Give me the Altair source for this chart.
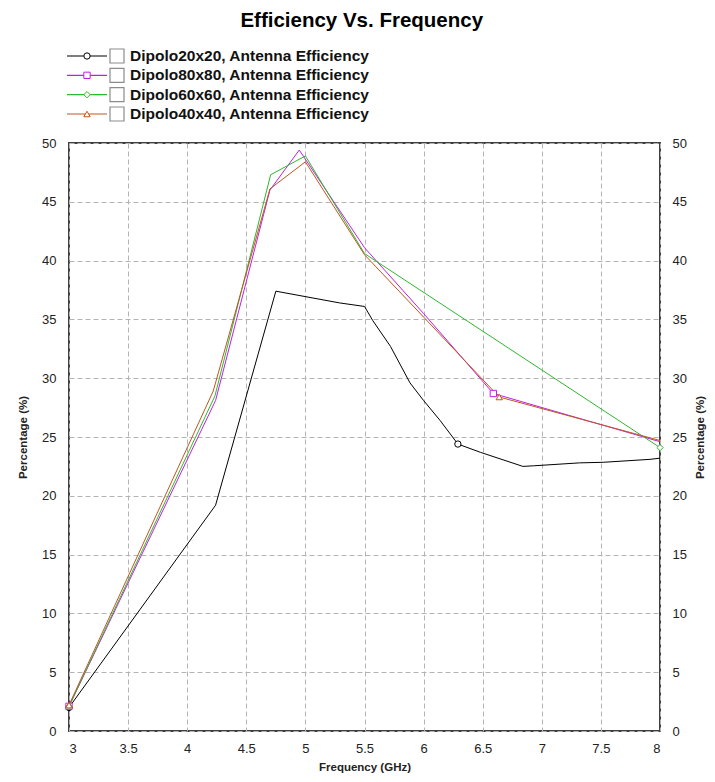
import altair as alt
import pandas as pd

# ---------------- data ----------------
names = [
    "Dipolo20x20, Antenna Efficiency",
    "Dipolo80x80, Antenna Efficiency",
    "Dipolo60x60, Antenna Efficiency",
    "Dipolo40x40, Antenna Efficiency",
]
colors = ["#000000", "#c01ee6", "#2eb82e", "#c0561e"]
shapes = ["circle", "square", "diamond", "triangle-up"]

f_20 = [3.0, 4.24, 4.75, 5.29, 5.50, 5.57, 5.72, 5.885, 6.0, 6.14, 6.29, 6.48, 6.84, 6.93, 7.32, 7.52, 7.915, 8.0]
v_20 = [2.0, 19.2, 37.4, 36.4, 36.1, 34.9, 32.7, 29.6, 28.1, 26.4, 24.4, 23.7, 22.5, 22.55, 22.8, 22.85, 23.1, 23.2]
m_20 = [0, 10]

f_80 = [3.0, 4.24, 4.70, 4.948, 5.5, 6.0, 6.59, 8.0]
v_80 = [2.1, 28.1, 46.0, 49.4, 41.1, 35.5, 28.7, 24.6]
m_80 = [0, 6]

f_60 = [3.0, 4.235, 4.706, 5.0, 5.5, 8.0]
v_60 = [2.1, 28.5, 47.3, 48.9, 40.6, 24.1]
m_60 = [0, 5]

f_40 = [3.0, 4.22, 4.70, 5.0, 5.5, 6.0, 6.64, 8.0]
v_40 = [2.2, 28.9, 46.1, 48.4, 40.5, 35.2, 28.4, 24.7]
m_40 = [0, 6]

x_ticks = [3, 3.5, 4, 4.5, 5, 5.5, 6, 6.5, 7, 7.5, 8]
y_ticks = [0, 5, 10, 15, 20, 25, 30, 35, 40, 45, 50]

# ---------------- tables ----------------
series_f = [f_20, f_80, f_60, f_40]
series_v = [v_20, v_80, v_60, v_40]
series_m = [m_20, m_80, m_60, m_40]

rows, mrows = [], []
for name, fs, vs, ms in zip(names, series_f, series_v, series_m):
    for i, (f, v) in enumerate(zip(fs, vs)):
        rows.append({"series": name, "f": f, "v": v, "idx": i})
    for i in ms:
        mrows.append({"series": name, "f": fs[i], "v": vs[i]})
df = pd.DataFrame(rows)
mdf = pd.DataFrame(mrows)
ldf = pd.DataFrame({"series": names})

SANS = "Liberation Sans"
LABEL = "#222222"

color_scale = alt.Scale(domain=names, range=colors)
shape_scale = alt.Scale(domain=names, range=shapes)

x_axis = alt.Axis(
    values=x_ticks, format=".1~f", title="Frequency (GHz)", grid=True,
    gridDash=[5, 3], gridColor="#b4b4b4", gridWidth=1, ticks=False, domain=False,
    labelFont=SANS, labelFontSize=13, labelColor=LABEL, labelPadding=11,
    titleFont=SANS, titleFontSize=11.5, titleFontWeight="bold", titleColor=LABEL,
    titlePadding=6,
)
x_enc = alt.X("f:Q", scale=alt.Scale(domain=[3, 8], nice=False, zero=False), axis=x_axis)
y_scale = alt.Scale(domain=[0, 50], nice=False)

def y_axis(orient, grid, label_pad, title_pad, title_base):
    return alt.Axis(
        orient=orient, values=y_ticks, title="Percentage (%)", grid=grid,
        gridDash=[5, 3], gridColor="#b4b4b4", gridWidth=1, ticks=False, domain=False,
        labelFont=SANS, labelFontSize=13, labelColor=LABEL, labelPadding=label_pad,
        titleFont=SANS, titleFontSize=11.5, titleFontWeight="bold", titleColor=LABEL,
        titlePadding=title_pad, titleAngle=270, titleBaseline=title_base,
    )

lines = alt.Chart(df).mark_line(strokeWidth=1, clip=True).encode(
    x=x_enc,
    y=alt.Y("v:Q", scale=y_scale, axis=y_axis("left", True, 13, 13, "bottom")),
    color=alt.Color("series:N", scale=color_scale, legend=None),
    order=alt.Order("idx:Q"),
)
right = alt.Chart(df).mark_line(opacity=0).encode(
    x=x_enc,
    y=alt.Y("v:Q", scale=y_scale, axis=y_axis("right", False, 12, 8, "top")),
    detail="series:N",
    order=alt.Order("idx:Q"),
)
pts = alt.Chart(mdf).mark_point(size=40, filled=False, fill="white", strokeWidth=1, opacity=1).encode(
    x=x_enc,
    y=alt.Y("v:Q", scale=y_scale, axis=None),
    stroke=alt.Stroke("series:N", scale=color_scale, legend=None),
    shape=alt.Shape("series:N", scale=shape_scale, legend=None),
)

main = alt.layer(lines, right, pts).resolve_axis(y="independent").properties(
    width=591, height=588,
    view=alt.ViewBackground(stroke="#404040", strokeWidth=2),
)

# ---------------- legend panel ----------------
leg_y = alt.Y("series:N", sort=names, scale=alt.Scale(type="point", padding=0), axis=None)
leg_base = alt.Chart(ldf).encode(y=leg_y)
leg_line = leg_base.mark_rule(strokeWidth=1.2).encode(
    x=alt.value(-2), x2=alt.value(38),
    color=alt.Color("series:N", scale=color_scale, legend=None),
)
leg_mark = leg_base.mark_point(size=40, filled=False, fill="white", strokeWidth=1, opacity=1).encode(
    x=alt.value(18),
    stroke=alt.Stroke("series:N", scale=color_scale, legend=None),
    shape=alt.Shape("series:N", scale=shape_scale, legend=None),
)
leg_box = leg_base.mark_square(size=196, fill="white", stroke="#8c8c8c", strokeWidth=1.2, opacity=1).encode(
    x=alt.value(48),
)
leg_text = leg_base.mark_text(align="left", baseline="middle", fontSize=15.5, fontWeight="bold",
                              font=SANS, color="#111111").encode(
    x=alt.value(61), text="series:N",
)
legend = alt.layer(leg_line, leg_mark, leg_box, leg_text).properties(
    width=591, height=58,
    view=alt.ViewBackground(stroke="transparent"),
)

chart = alt.vconcat(legend, main, spacing=12).properties(
    title=alt.Title("Efficiency Vs. Frequency", font=SANS, fontSize=20.5, fontWeight="bold",
                    color="#000000", anchor="middle", offset=15),
    background="white",
    padding={"left": 8, "top": 2, "right": 0, "bottom": 0},
).configure_view(stroke="transparent")

chart.save("out.html", embed_options={"renderer": "svg", "actions": False})
